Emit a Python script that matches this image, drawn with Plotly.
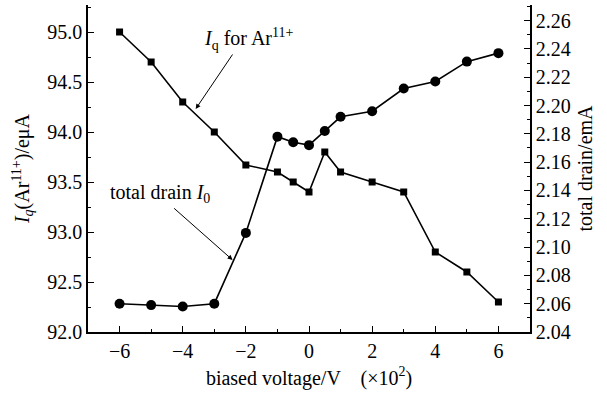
import plotly.graph_objects as go

voltage = [-6, -5, -4, -3, -2, -1, -0.5, 0, 0.5, 1, 2, 3, 4, 5, 6]
iq_ar11 = [95.0, 94.7, 94.3, 94.0, 93.67, 93.6, 93.5, 93.4, 93.8, 93.6, 93.5, 93.4, 92.8, 92.6, 92.3]
total_drain = [2.060, 2.059, 2.058, 2.060, 2.110, 2.178, 2.174, 2.172, 2.182, 2.192, 2.196, 2.212, 2.217, 2.231, 2.237]

x_ticks = [-6, -4, -2, 0, 2, 4, 6]
left_ticks = [92.0, 92.5, 93.0, 93.5, 94.0, 94.5, 95.0]
right_ticks = [2.04, 2.06, 2.08, 2.10, 2.12, 2.14, 2.16, 2.18, 2.20, 2.22, 2.24, 2.26]

FONT = "Liberation Serif"
FS = 20

fig = go.Figure()
fig.add_trace(go.Scatter(x=voltage, y=iq_ar11, mode="lines+markers",
                         line=dict(color="black", width=1.6),
                         marker=dict(symbol="square", size=7, color="black"),
                         yaxis="y", showlegend=False))
fig.add_trace(go.Scatter(x=voltage, y=total_drain, mode="lines+markers",
                         line=dict(color="black", width=1.6),
                         marker=dict(symbol="circle", size=10, color="black"),
                         yaxis="y2", showlegend=False))

fig.update_layout(
    width=607, height=396,
    margin=dict(l=88, r=77, t=5, b=64),
    paper_bgcolor="white", plot_bgcolor="white",
    font=dict(family=FONT, size=FS, color="black"),
    xaxis=dict(range=[-7, 7], tickvals=x_ticks, ticks="inside", ticklen=6,
               tickwidth=1, tickcolor="black",
               minor=dict(dtick=1, ticks="inside", ticklen=3, tickcolor="black", tickwidth=1),
               showline=True, linecolor="black", linewidth=1.5, showgrid=False,
               zeroline=False, mirror=False,
               title=dict(text="biased voltage/V    (×10<sup>2</sup>)", standoff=10,
                          font=dict(family=FONT, size=FS))),
    yaxis=dict(range=[92.0, 95.27], tickvals=left_ticks, tickformat=".1f",
               ticks="inside", ticklen=6, tickwidth=1, tickcolor="black",
               minor=dict(dtick=0.25, tick0=92, ticks="inside", ticklen=3, tickcolor="black", tickwidth=1),
               showline=True, linecolor="black", linewidth=1.5, showgrid=False,
               zeroline=False,
               title=dict(text="<i>I</i><sub><i>q</i></sub>(Ar<sup>11+</sup>)/eμA", standoff=12,
                          font=dict(family=FONT, size=FS))),
    yaxis2=dict(range=[2.04, 2.271], tickvals=right_ticks, tickformat=".2f",
                overlaying="y", side="right",
                ticks="inside", ticklen=6, tickwidth=1, tickcolor="black",
                minor=dict(dtick=0.01, tick0=2.04, ticks="inside", ticklen=3, tickcolor="black", tickwidth=1),
                showline=True, linecolor="black", linewidth=1.5, showgrid=False,
                zeroline=False,
                title=dict(text="total drain/emA", standoff=8,
                           font=dict(family=FONT, size=FS))),
    annotations=[
        dict(x=-1.91, y=94.93, xref="x", yref="y", text="<i>I</i><sub>q</sub> for Ar<sup>11+</sup>",
             showarrow=False, font=dict(family=FONT, size=FS)),
        dict(x=-4.73, y=93.39, xref="x", yref="y", text="total drain <i>I</i><sub>0</sub>",
             showarrow=False, font=dict(family=FONT, size=FS)),
        dict(x=-3.59, y=94.23, ax=-2.39, ay=94.79, xref="x", yref="y", axref="x", ayref="y",
             text="", showarrow=True, arrowhead=2, arrowsize=1, arrowwidth=1, arrowcolor="black"),
        dict(x=-2.42, y=92.72, ax=-4.32, ay=93.25, xref="x", yref="y", axref="x", ayref="y",
             text="", showarrow=True, arrowhead=2, arrowsize=1, arrowwidth=1, arrowcolor="black"),
    ],
)

fig.write_html("out.html")
